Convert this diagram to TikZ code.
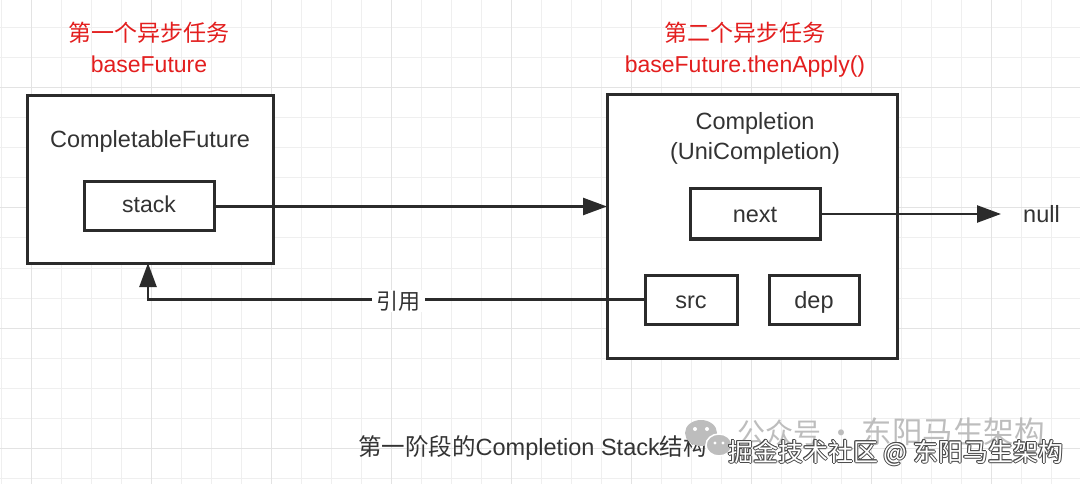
\documentclass[tikz,border=0pt]{standalone}
\usepackage{fontspec}
\setmainfont{Liberation Sans}
\newfontfamily\cjk{Noto Sans CJK SC}
\usetikzlibrary{arrows.meta}
\definecolor{ink}{HTML}{2B2B2B}
\definecolor{txt}{HTML}{333333}
\definecolor{redt}{HTML}{E31E1E}
\definecolor{gridminor}{HTML}{EFEFEF}
\definecolor{gridmajor}{HTML}{E3E3E3}
\definecolor{wmgray}{HTML}{BDBDBD}
\definecolor{wmline}{HTML}{4A4A4A}
\begin{document}
\begin{tikzpicture}[x=1pt,y=-1pt,
  box/.style={draw=ink, line width=3pt, fill=white, inner sep=0pt, outer sep=0pt},
  lbl/.style={text=txt, inner sep=0pt, anchor=base, font=\fontsize{23.5}{28}\selectfont},
  title/.style={text=redt, inner sep=0pt, font=\fontsize{23}{27}\selectfont},
  conn/.style={draw=ink, line width=2.5pt, -{Triangle[length=24pt,width=17pt]}},
  wmtext/.style={inner sep=0pt, anchor=base west, font=\fontsize{25}{29}\selectfont\cjk}
]
\useasboundingbox (0,0) rectangle (1080,484);
\fill[white] (0,0) rectangle (1080,484);
% grid
\foreach \i in {0,...,35} {\draw[gridminor, line width=1pt] ({1+30*\i},0) -- ({1+30*\i},484);}
\foreach \i in {1,...,16} {\draw[gridminor, line width=1pt] (0,{-2+30*\i}) -- (1080,{-2+30*\i});}
\foreach \i in {0,...,8} {\draw[gridmajor, line width=1pt] ({31+120*\i},0) -- ({31+120*\i},484);}
\foreach \i in {0,...,3} {\draw[gridmajor, line width=1pt] (0,{88+120*\i}) -- (1080,{88+120*\i});}

% titles
\node[title] (t1a) at (149,33) {\cjk 第一个异步任务};
\node[title, anchor=base] (t1b) at (149,73) {baseFuture};
\node[title] (t2a) at (745,33) {\cjk 第二个异步任务};
\node[title, anchor=base] (t2b) at (745,73) {baseFuture.thenApply()};

% left box
\node[box, minimum width=246pt, minimum height=167pt] (cf) at (150,179.5) {};
\node[lbl] (cft) at (150,148) {CompletableFuture};
\node[box, minimum width=130pt, minimum height=49pt] (stack) at (149,206.5) {};
\node[lbl, font=\fontsize{23}{28}\selectfont] (stackt) at (149,213) {stack};

% right box
\node[box, minimum width=290pt, minimum height=263pt] (rb) at (752,226.5) {};
\node[lbl] (rbt1) at (755,130) {Completion};
\node[lbl] (rbt2) at (755,160) {(UniCompletion)};
\node[box, minimum width=130pt, minimum height=50pt] (next) at (755,214) {};
\node[lbl] (nextt) at (755,222.7) {next};
\node[box, minimum width=92pt, minimum height=49pt] (src) at (691,299.5) {};
\node[lbl] (srct) at (691,308) {src};
\node[box, minimum width=90pt, minimum height=49pt] (dep) at (814,299.5) {};
\node[lbl] (dept) at (814,308) {dep};

% null
\coordinate (nullpt) at (1001,214);
\node[lbl, anchor=base west] (nullt) at (1023,222.7) {null};

% connectors
\draw[conn] (stack.east) -- (stack.east -| rb.west);
\draw[conn] (next.east) -- (nullpt);
\coordinate (bend) at (148,299.5);
\draw[conn] (src.west) -- (bend) -- (bend |- cf.south);
\node[fill=white, inner xsep=4.5pt, inner ysep=1pt, text=txt, font=\fontsize{22}{26}\selectfont\cjk] (ref) at (398,301) {引用};

% caption
\node[lbl, anchor=base west] (cap) at (358,455) {{\cjk 第一阶段的}Completion Stack{\cjk 结构}};

% watermark
\fill[wmgray] (701,433) ellipse [x radius=16pt, y radius=13pt];
\draw[white, line width=1.5pt, fill=wmgray] (719,445) ellipse [x radius=13pt, y radius=11pt];
\fill[white] (695,429) circle [radius=2pt] (707,429) circle [radius=2pt];
\fill[white] (715,443) circle [radius=1.6pt] (723,443) circle [radius=1.6pt];
\node[wmtext, text=wmgray, font=\fontsize{28}{32}\selectfont\cjk] (wm1) at (737,443) {公众号 · {\fontsize{30.5}{32}\selectfont 东阳马生架构}};
\foreach \dx/\dy [count=\k] in {1/0,-1/0,0/1,0/-1,0.7/0.7,0.7/-0.7,-0.7/0.7,-0.7/-0.7} {
  \node[wmtext, text=wmline] (wmo\k) at ({728+\dx},{461+\dy}) {掘金技术社区 @ 东阳马生架构};
}
\node[wmtext, text=white] (wm2) at (728,461) {掘金技术社区 @ 东阳马生架构};
\end{tikzpicture}
\end{document}
